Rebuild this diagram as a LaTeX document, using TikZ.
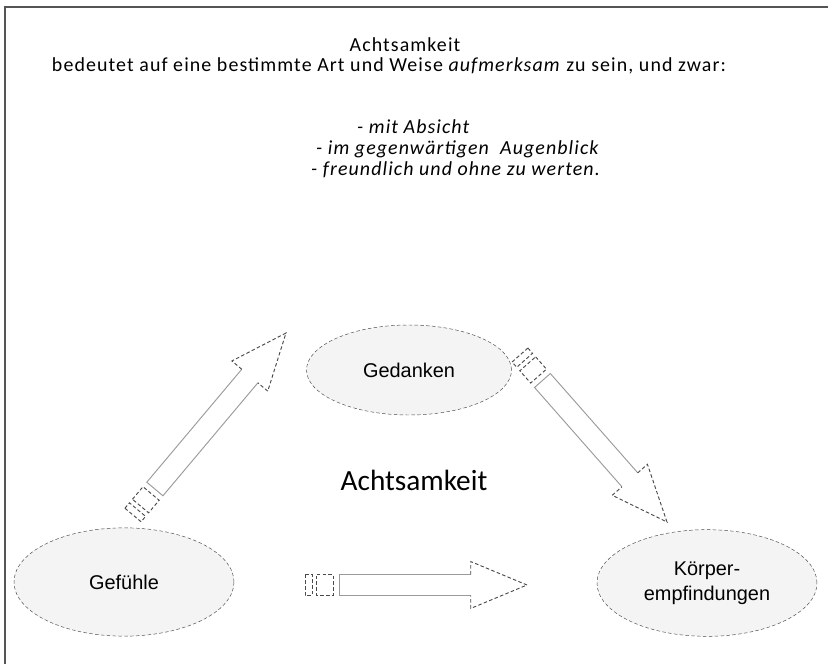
\documentclass[tikz,border=0pt]{standalone}
\usepackage{fontspec}
\setmainfont{Carlito}
\newfontfamily\introfont[LetterSpace=5.5]{Carlito}
\newfontfamily\labelfont{Liberation Sans}
\usetikzlibrary{calc,shapes.geometric}
\definecolor{MindFill}{HTML}{F4F4F4}
\definecolor{MindLine}{HTML}{4A4A4A}
\definecolor{MindGray}{HTML}{9A9A9A}
\definecolor{MindFrame}{HTML}{555555}

% hollow block arrow with two stripes at the tail, from #1 (tail) to #2 (tip)
\newcommand{\stripearrow}[2]{%
  \coordinate (hb) at ($(#2)!48pt!(#1)$);
  \coordinate (sb) at ($(#1)!29pt!(#2)$);
  \draw[shaftline] ($(hb)!9pt!90:(#2)$) -- ($(sb)!9pt!90:(#2)$)
    -- ($(sb)!9pt!-90:(#2)$) -- ($(hb)!9pt!-90:(#2)$);
  \draw[headline] ($(hb)!9pt!90:(#2)$) -- ($(hb)!20pt!90:(#2)$) -- (#2)
    -- ($(hb)!20pt!-90:(#2)$) -- ($(hb)!9pt!-90:(#2)$);
  \foreach \ua/\ub in {0pt/6pt,10pt/24pt}{
    \draw[headline] ($(#1)!\ua!(#2)!9pt!90:(#2)$) -- ($(#1)!\ub!(#2)!9pt!90:(#2)$)
      -- ($(#1)!\ub!(#2)!9pt!-90:(#2)$) -- ($(#1)!\ua!(#2)!9pt!-90:(#2)$) -- cycle;
  }
}

\begin{document}
\begin{tikzpicture}[x=0.03cm,y=-0.03cm]
  \tikzstyle{topic}=[ellipse,draw=MindLine,densely dashed,fill=MindFill,
    inner sep=0pt,align=center,font=\labelfont\fontsize{17}{21}\selectfont]
  \tikzstyle{intro}=[inner sep=0pt,font=\introfont\fontsize{17}{20}\selectfont]
  \tikzstyle{shaftline}=[draw=MindGray,line width=0.8pt]
  \tikzstyle{headline}=[draw=MindLine,densely dashed,line width=0.8pt]
  \useasboundingbox (0,0) rectangle (828,664);
  \draw[MindFrame,line width=1.3pt] (5,664) -- (5,7) -- (828,7);

  % heading
  \node[intro] (title) at (405,45) {Achtsamkeit};
  \node[intro] (def) at (389,66)
    {bedeutet auf eine bestimmte Art und Weise \textit{aufmerksam} zu sein, und zwar:};
  \node[intro,anchor=west] (p1) at (357,127) {\textit{- mit Absicht}};
  \node[intro,anchor=west] (p2) at (316,149) {\textit{- im gegenwärtigen\ \ Augenblick}};
  \node[intro,anchor=west] (p3) at (311,170) {\textit{- freundlich und ohne zu werten.}};

  % the three ellipses
  \node[topic,minimum width=6.15cm,minimum height=2.7cm] (ged) at (409,370) {Gedanken};
  \node[topic,minimum width=6.6cm,minimum height=3.25cm] (gef) at (124,582) {Gefühle};
  \node[topic,minimum width=6.6cm,minimum height=3.2cm] (koe) at (707,583)
    {Körper-\\empfindungen};
  \node[font=\fontsize{25}{30}\selectfont] (mid) at (414,480) {Achtsamkeit};

  % arrows
  \coordinate (a1) at (133,515);
  \coordinate (b1) at (286,333);
  \coordinate (a2) at (520,355);
  \coordinate (b2) at (667,522);
  \coordinate (a3) at (305,585);
  \coordinate (b3) at (527,585);
  \stripearrow{a1}{b1}
  \stripearrow{a2}{b2}
  \stripearrow{a3}{b3}
\end{tikzpicture}
\end{document}
